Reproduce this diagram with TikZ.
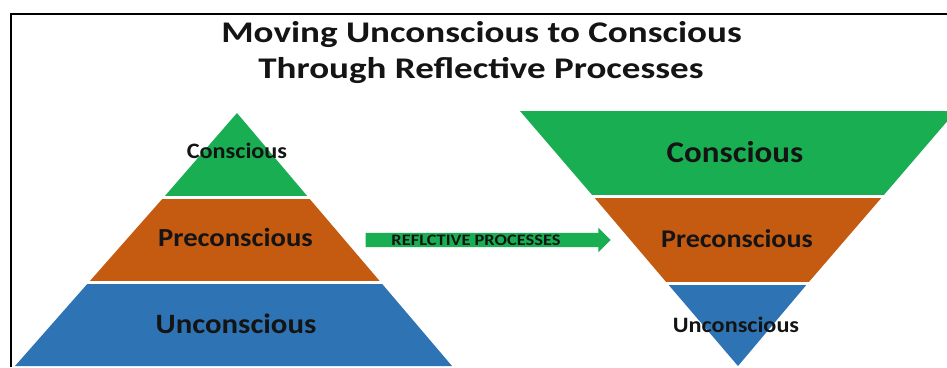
\documentclass[tikz,border=0pt]{standalone}
\usepackage{fontspec}
\setmainfont{Carlito}
\usetikzlibrary{shapes.arrows}
\definecolor{lvgreen}{HTML}{1AAE52}
\definecolor{lvorange}{HTML}{C55A11}
\definecolor{lvblue}{HTML}{2E74B5}
\definecolor{ink}{HTML}{141414}
% horizontally widened text
\newcommand{\widetext}[2]{\scalebox{#1}[1]{#2}}
\begin{document}
\begin{tikzpicture}[x=1pt,y=-1pt,
  lbl/.style={font=\bfseries, text=ink, anchor=base, inner sep=0pt},
  gap/.style={draw=white, line width=2.5pt}]
\useasboundingbox (0,0) rectangle (947,367);
\fill[white] (0,0) rectangle (947,367);
% frame edges
\draw[line width=2pt, black] (11,367) -- (11,14) -- (947,14);

% title
\node[lbl, font=\fontsize{30}{36}\bfseries] (t1) at (481.5,42) {\widetext{1.235}{Moving Unconscious to Conscious}};
\node[lbl, font=\fontsize{30}{36}\bfseries] (t2) at (481,78) {\widetext{1.235}{Through Reflective Processes}};

% upright pyramid
\fill[lvgreen]  (237,113) -- (308,197) -- (164,197) -- cycle;
\fill[lvorange] (164,197) -- (308,197) -- (380.5,282) -- (89,282) -- cycle;
\fill[lvblue]   (89,282) -- (380.5,282) -- (452,366) -- (15,366) -- cycle;
\draw[gap] (160,197.5) -- (312,197.5);
\draw[gap] (85,282.5) -- (385,282.5);

% inverted pyramid
\begin{scope}
\clip (0,0) rectangle (947,367);
\fill[lvgreen]  (520,111) -- (956,111) -- (883,196) -- (593,196) -- cycle;
\end{scope}
\fill[lvorange] (593,196) -- (883,196) -- (808,283) -- (667,283) -- cycle;
\fill[lvblue]   (667,283) -- (808,283) -- (738,366) -- cycle;
\draw[gap] (589,196.5) -- (887,196.5);
\draw[gap] (663,283.5) -- (812,283.5);

% layer labels
\node[lbl, font=\fontsize{22}{26}\bfseries] (lc) at (237,158) {\widetext{1.1}{Conscious}};
\node[lbl, font=\fontsize{26}{30}\bfseries] (lp) at (235.5,246) {\widetext{1.1}{Preconscious}};
\node[lbl, font=\fontsize{28}{32}\bfseries] (lu) at (236,333) {\widetext{1.1}{Unconscious}};

\node[lbl, font=\fontsize{30}{34}\bfseries] (rc) at (735,162) {\widetext{1.1}{Conscious}};
\node[lbl, font=\fontsize{25.5}{30}\bfseries] (rp) at (737,247) {\widetext{1.1}{Preconscious}};
\node[lbl, font=\fontsize{22}{26}\bfseries] (ru) at (736,332) {\widetext{1.1}{Unconscious}};

% block arrow
\node[single arrow, fill=lvgreen, draw=none, inner sep=7pt,
      minimum height=245pt, single arrow head extend=5pt,
      single arrow head indent=0pt] (arr) at (484.5,240) {};
\node[lbl, anchor=center, font=\fontsize{16}{18}\bfseries] (at) at (476,240.5) {\widetext{1.15}{REFLCTIVE PROCESSES}};
\end{tikzpicture}
\end{document}
